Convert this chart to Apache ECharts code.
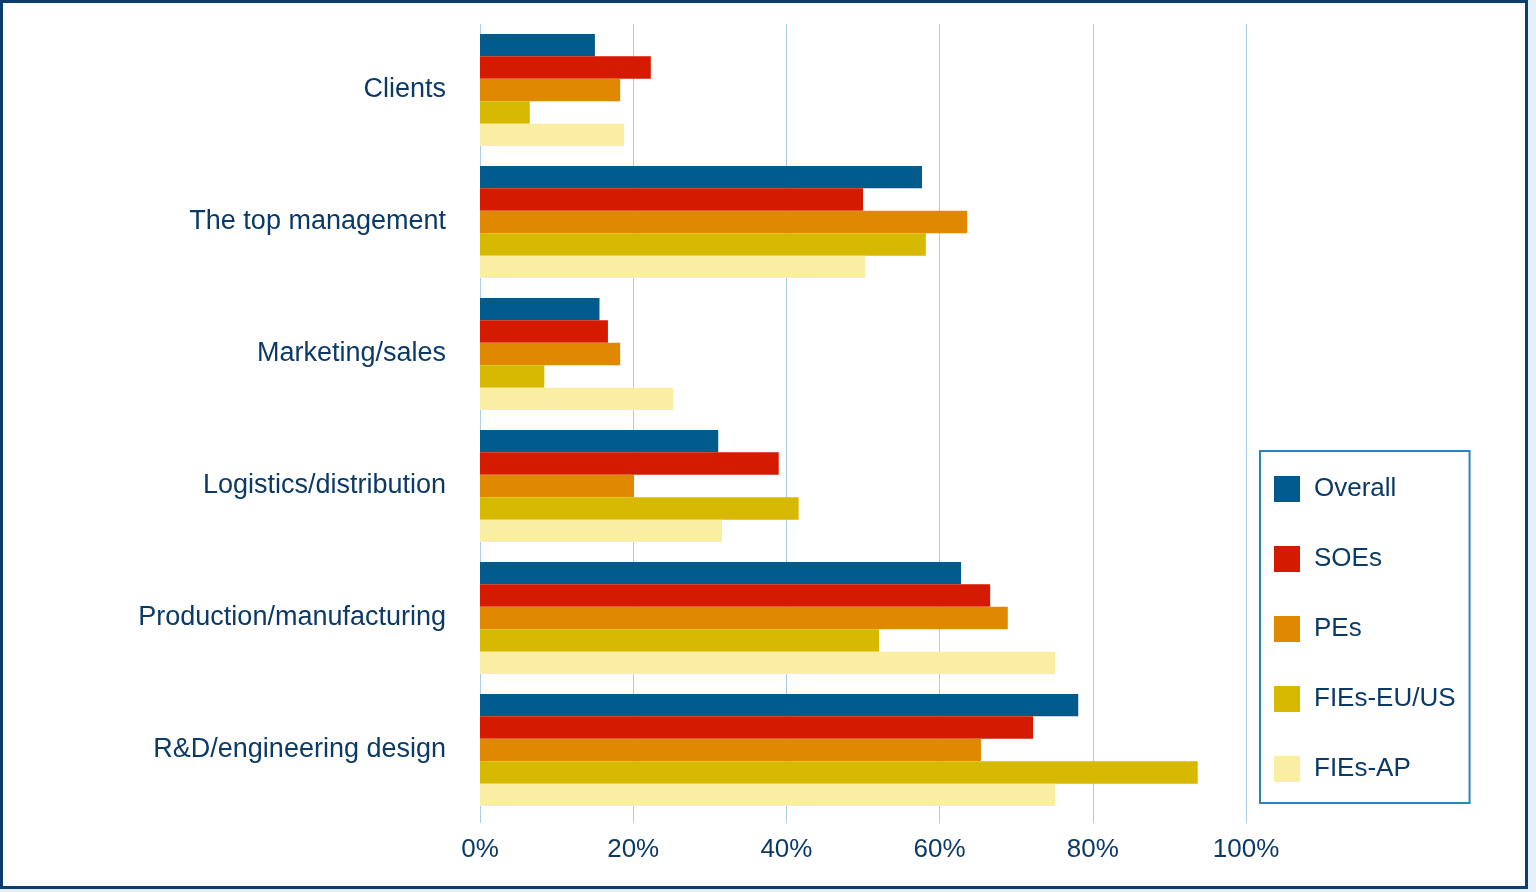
<!DOCTYPE html>
<html><head><meta charset="utf-8">
<script src="https://cdn.jsdelivr.net/npm/echarts@6/dist/echarts.min.js"></script>
<style>
html,body{margin:0;padding:0;background:#e4f1fc;width:1536px;height:892px;overflow:hidden}
#frame{position:absolute;left:0;top:0;width:1522px;height:883px;border:3px solid #0b3d6e;background:#fff}
#c{position:absolute;left:0;top:0;width:1536px;height:892px}
</style></head><body>
<div id="frame"></div>
<div id="c"></div>
<script>
const categories = ['Clients','The top management','Marketing/sales','Logistics/distribution','Production/manufacturing','R&D/engineering design'];
const seriesNames = ['Overall','SOEs','PEs','FIEs-EU/US','FIEs-AP'];
const overall = [15.0, 57.7, 15.6, 31.1, 62.8, 78.1];
const soes    = [22.3, 50.0, 16.7, 39.0, 66.6, 72.2];
const pes     = [18.3, 63.6, 18.3, 20.1, 68.9, 65.4];
const fiesEuUs= [6.5, 58.2, 8.4, 41.6, 52.1, 93.7];
const fiesAp  = [18.8, 50.3, 25.2, 31.6, 75.1, 75.1];
const xTicks = [0,20,40,60,80,100];
const colors = ['#005a8c','#d41a00','#e08900','#d6b900','#faeea4'];
const data = [overall, soes, pes, fiesEuUs, fiesAp];
const txt = '#0b3a66';
const chart = echarts.init(document.getElementById('c'));
chart.setOption({
  animation:false,
  backgroundColor:'transparent',
  textStyle:{fontFamily:'Liberation Sans, Arial, sans-serif'},
  grid:{left:480,right:290,top:24,bottom:76,containLabel:false},
  legend:{
    orient:'vertical', left:1260, top:451,
    padding:[25,14,21,14], itemWidth:26, itemHeight:26, itemGap:44,
    borderColor:'#2a86b8', borderWidth:2,
    icon:'rect',
    textStyle:{color:txt,fontSize:26,padding:[0,0,0,9]},
    data:seriesNames
  },
  xAxis:{
    type:'value', min:0, max:100, interval:20,
    axisLine:{show:false},
    axisTick:{show:true,length:7,lineStyle:{color:'#a9cfe6',width:1}},
    splitLine:{show:true,lineStyle:{color:'#a9cfe6',width:1}},
    axisLabel:{color:txt,fontSize:26,margin:21,formatter:v=>v+'%'}
  },
  yAxis:{
    type:'category', data:categories, inverse:true,
    axisLine:{show:false}, axisTick:{show:false},
    axisLabel:{color:txt,fontSize:27,margin:34}
  },
  series: seriesNames.map((n,i)=>({
    name:n, type:'bar', data:data[i], barGap:'0%', barCategoryGap:'15%',
    itemStyle:{color:colors[i]}
  }))
});
</script>
</body></html>
